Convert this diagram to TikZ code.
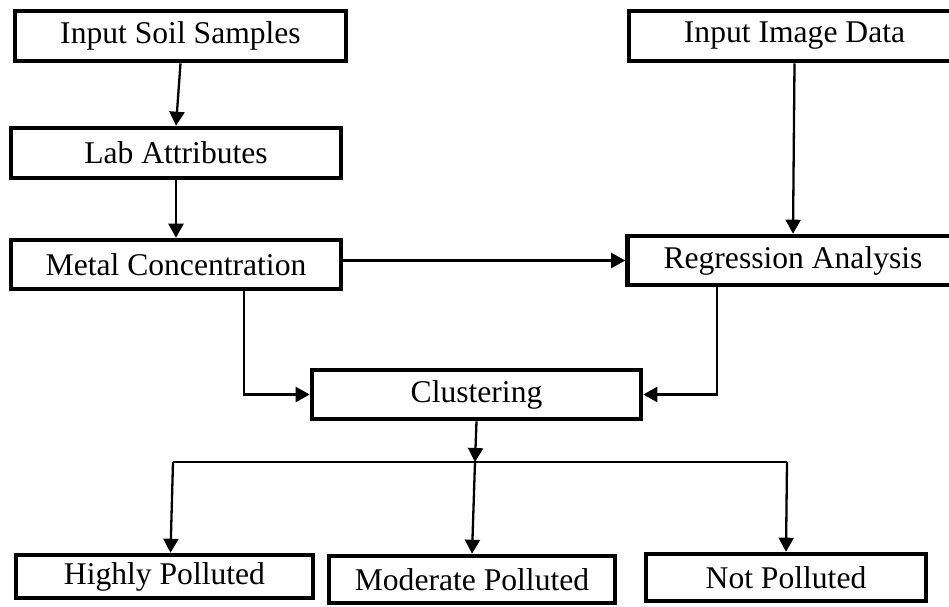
\documentclass[tikz,border=0pt]{standalone}
\usepackage{fontspec}
\setmainfont{Liberation Serif}
\usetikzlibrary{arrows.meta}

\begin{document}
\begin{tikzpicture}[x=1pt,y=-1pt,
        blk/.style={draw, line width=4.6pt, inner sep=0pt, font=\fontsize{31.6}{36}\selectfont},
        arr/.style={line width=2.3pt, -{Triangle[length=14pt,width=15pt]}},
        lin/.style={line width=2.3pt}]
    \useasboundingbox (0,0) rectangle (949,606);
    \clip (0,0) rectangle (949,606);
    % left column
    \node[blk, minimum width=331pt, minimum height=50pt] (soil) at (180.5,36) {Input Soil Samples};
    \node[blk, minimum width=330pt, minimum height=50pt] (lab) at (176,153) {Lab Attributes};
    \node[blk, minimum width=330pt, minimum height=49pt] (metal) at (176,264.5) {Metal Concentration};
    % right column
    \node[blk, minimum width=331pt, minimum height=50pt] (image) at (794.5,36) {Input Image Data};
    \node[blk, minimum width=331pt, minimum height=49pt] (regr) at (793,260.5) {Regression Analysis};
    \node[blk, minimum width=329pt, minimum height=49pt] (cluster) at (476.5,394.5) {Clustering};
    % results
    \node[blk, minimum width=297pt, minimum height=43pt] (highly) at (164.5,576.5) {Highly Polluted};
    \node[blk, minimum width=286pt, minimum height=47pt] (moderate) at (472,579.5) {Moderate Polluted};
    \node[blk, minimum width=280pt, minimum height=47pt] (notpol) at (786,577.5) {Not Polluted};

    \draw[arr] (soil.south) -- (lab.north);
    \draw[arr] (lab.south) -- (metal.north);
    \draw[arr] (metal.east |- regr.west) -- (regr.west);
    \draw[arr] (image.south) -- (regr.north);
    \draw[arr] ([xshift=68pt]metal.south) |- (cluster.west);   % metal -> clustering
    \draw[arr] ([xshift=-76pt]regr.south) |- (cluster.east);   % regression -> clustering

    \coordinate (split) at (475,462);
    \coordinate (hl) at (173,462);
    \coordinate (hr) at (787,462);
    \draw[arr] (cluster.south) -- (split);
    \draw[lin] (hl) -- (hr);
    \draw[arr] (hl) -- ([xshift=6pt]highly.north);
    \draw[arr] (split) -- (moderate.north);
    \draw[arr] (hr) -- (notpol.north);
\end{tikzpicture}
\end{document}
